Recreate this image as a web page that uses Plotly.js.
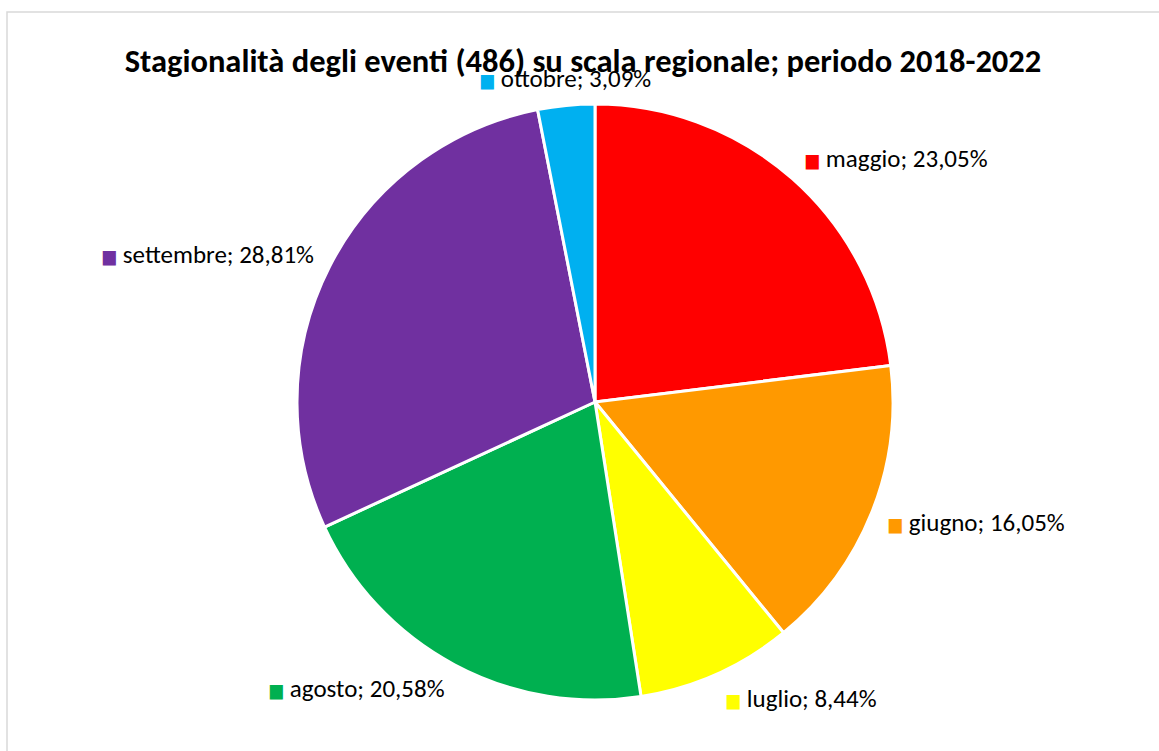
<!DOCTYPE html>
<html>
<head>
<meta charset="utf-8">
<script src="https://cdn.plot.ly/plotly-3.0.1.min.js"></script>
<style>html,body{margin:0;padding:0;background:#fff;}#chart{width:1159px;height:751px;}</style>
</head>
<body>
<div id="chart"></div>
<script>
const months = ["maggio", "giugno", "luglio", "agosto", "settembre", "ottobre"];
const counts = [112, 78, 41, 100, 140, 15];
const colors = ["#FF0000", "#FF9900", "#FFFF00", "#00B050", "#7030A0", "#00B0F0"];
const titleText = "Stagionalità degli eventi (486) su scala regionale; periodo 2018-2022";

const W = 1159, H = 751;
const cx = 595, cy = 402, R = 298;
const FONT = "Carlito, 'Liberation Sans Narrow', 'DejaVu Sans Condensed', 'Open Sans', sans-serif";

const total = counts.reduce((a, b) => a + b, 0);
const pct = counts.map(v => v / total * 100);
const fmt = p => p.toFixed(2).replace('.', ',') + '%';

const annotations = [];
let cum = 0;
pct.forEach((p, i) => {
  const mid = (cum + p / 2) / 100 * 2 * Math.PI;
  cum += p;
  const px = cx + Math.sin(mid) * R * 1.05;
  const py = cy - Math.cos(mid) * R * 1.09;
  const s = Math.sin(mid);
  const anchor = Math.abs(s) < 0.3 ? 'center' : (s > 0 ? 'left' : 'right');
  annotations.push({
    xref: 'paper', yref: 'paper',
    x: px / W, y: 1 - py / H,
    xanchor: anchor, yanchor: 'middle',
    showarrow: false,
    text: '<span style="color:' + colors[i] + ';font-size:19px">■</span> ' + months[i] + '; ' + fmt(p),
    font: {family: FONT, size: 25, color: '#000'}
  });
});

const data = [{
  type: 'pie',
  values: counts,
  labels: months,
  sort: false,
  direction: 'clockwise',
  rotation: 0,
  textinfo: 'none',
  hoverinfo: 'none',
  showlegend: false,
  marker: {colors: colors, line: {color: '#FFFFFF', width: 3}},
  domain: {x: [(cx - R) / W, (cx + R) / W], y: [1 - (cy + R) / H, 1 - (cy - R) / H]}
}];

const layout = {
  width: W, height: H,
  margin: {l: 0, r: 0, t: 0, b: 0},
  paper_bgcolor: '#FFFFFF',
  title: {
    text: '<b>' + titleText + '</b>',
    x: 583 / W, xanchor: 'center',
    y: 1 - 61 / H, yanchor: 'middle',
    font: {family: FONT, size: 32.5, color: '#000'}
  },
  annotations: annotations,
  shapes: [{
    type: 'rect', xref: 'paper', yref: 'paper',
    x0: 7 / W, x1: 1175 / W, y0: 1 - 765 / H, y1: 1 - 12 / H,
    line: {color: '#D9D9D9', width: 1.5}, fillcolor: 'rgba(0,0,0,0)', layer: 'below'
  }]
};

Plotly.newPlot('chart', data, layout, {displayModeBar: false, staticPlot: true});
</script>
</body>
</html>
